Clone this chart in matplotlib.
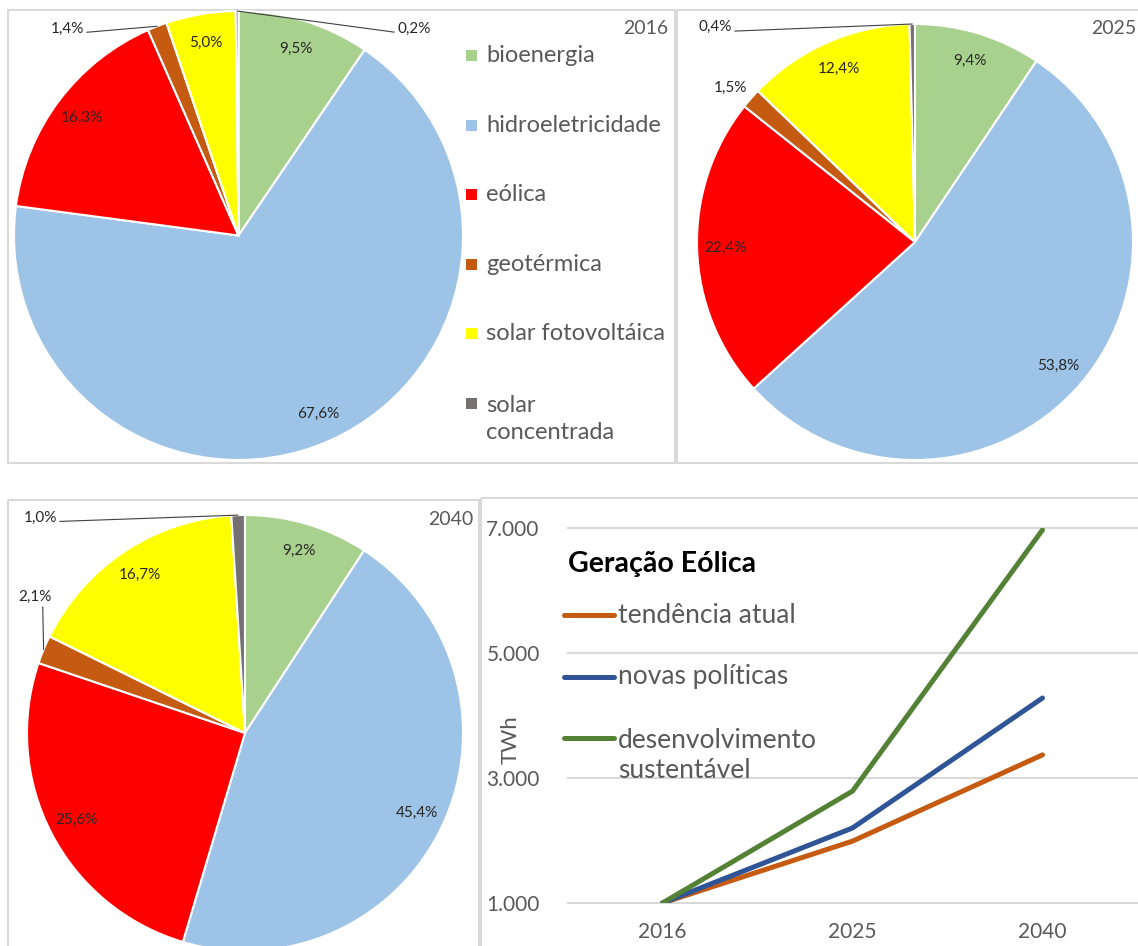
import matplotlib

matplotlib.use("Agg")
import matplotlib.pyplot as plt
import numpy as np
from matplotlib.patches import Rectangle

W, H = 1138, 946

SOURCES = ["bioenergia", "hidroeletricidade", "eólica", "geotérmica", "solar fotovoltáica", "solar concentrada"]
SOURCE_COLORS = ["#A9D18E", "#9DC3E6", "#FF0000", "#C55A11", "#FFFF00", "#767171"]
SHARE_2016 = [9.5, 67.6, 16.3, 1.4, 5.0, 0.2]
SHARE_2025 = [9.4, 53.8, 22.4, 1.5, 12.4, 0.4]
SHARE_2040 = [9.2, 45.4, 25.6, 2.1, 16.7, 1.0]

YEARS = ["2016", "2025", "2040"]
SCENARIOS = ["tendência atual", "novas políticas", "desenvolvimento\nsustentável"]
SCENARIO_COLORS = ["#C55A11", "#2F5597", "#548235"]
WIND_TREND = [1000, 1990, 3370]
WIND_NEW_POLICIES = [1000, 2200, 4280]
WIND_SUSTAINABLE = [1000, 2790, 6970]
Y_TICKS = [1000, 3000, 5000, 7000]

GREY = "#595959"
plt.rcParams["font.family"] = ["Lato", "DejaVu Sans"]

fig = plt.figure(figsize=(W / 100, H / 100), dpi=100)


def px_axes(x0, y0, x1, y1):
    return fig.add_axes([x0 / W, 1 - y1 / H, (x1 - x0) / W, (y1 - y0) / H])


def pct(v):
    return f"{v:.1f}%".replace(".", ",")


bg = px_axes(0, 0, W, H)
bg.set_xlim(0, W); bg.set_ylim(H, 0); bg.axis("off")
for x0, y0, x1, y1 in [(8, 10, 675, 463), (677, 10, 1160, 463), (8, 500, 479, 960), (481, 498, 1160, 960)]:
    bg.add_patch(Rectangle((x0, y0), x1 - x0, y1 - y0, fill=False, ec="#D9D9D9", lw=1.5, clip_on=False))


def draw_pie(cx, cy, r, shares, year, year_xy, outside):
    ax = px_axes(cx - r, cy - r, cx + r, cy + r)
    wedges, _ = ax.pie(shares, colors=SOURCE_COLORS, startangle=90, counterclock=False, radius=1,
                       wedgeprops=dict(edgecolor="white", linewidth=1.5))
    ax.set_xlim(-1, 1); ax.set_ylim(-1, 1); ax.axis("off")
    for w, v, name in zip(wedges, shares, SOURCES):
        ang = np.deg2rad((w.theta1 + w.theta2) / 2)
        if name in outside:
            tx, ty, ha, rel = outside[name]
            arrow = None if rel is None else dict(arrowstyle="-", color="#404040", lw=0.8, shrinkA=0, shrinkB=0, relpos=rel)
            ax.annotate(pct(v), xy=(np.cos(ang), np.sin(ang)), xytext=((tx - cx) / r, (cy - ty) / r),
                        ha=ha, va="center", fontsize=11, color="#262626", arrowprops=arrow, annotation_clip=False)
        else:
            ax.text(0.87 * np.cos(ang), 0.87 * np.sin(ang), pct(v), ha="center", va="center", fontsize=11, color="#262626")
    fig_x, fig_y, ha = year_xy
    fg_texts.append((fig_x, fig_y, year, ha))


fg_texts = []
draw_pie(238.5, 235.5, 224.5, SHARE_2016, "2016", (668, 28, "right"),
         {"geotérmica": (84, 29, "right", (1, 0.25)), "solar concentrada": (397, 29, "left", (0, 0.25))})
draw_pie(915, 242, 218, SHARE_2025, "2025", (1136, 28, "right"),
         {"geotérmica": (730, 88, "center", None), "solar concentrada": (732, 27, "right", (1, 0.2))})
draw_pie(245, 733, 218, SHARE_2040, "2040", (473, 519, "right"),
         {"geotérmica": (35, 597, "center", (0.73, 0)), "solar concentrada": (57, 518, "right", (1, 0.25))})

# line chart
ax = px_axes(567.5, 528, 1137.5, 903)
ax.patch.set_alpha(0)
x = np.arange(len(YEARS))
for vals, color in zip([WIND_TREND, WIND_NEW_POLICIES, WIND_SUSTAINABLE], SCENARIO_COLORS):
    ax.plot(x, vals, color=color, lw=3.6, solid_capstyle="round", zorder=3)
ax.set_xlim(-0.5, 2.5); ax.set_ylim(1000, 7000)
ax.set_xticks(x, YEARS)
ax.set_yticks(Y_TICKS, [f"{v:,}".replace(",", ".") for v in Y_TICKS])
ax.grid(axis="y", color="#D9D9D9", lw=1.5)
for gl in ax.get_ygridlines():
    gl.set_clip_on(False)
for s in ax.spines.values():
    s.set_visible(False)
ax.tick_params(axis="y", length=0, labelsize=15, labelcolor=GREY, pad=20)
ax.tick_params(axis="x", length=0, labelsize=15, labelcolor=GREY, pad=14)

fg = px_axes(0, 0, W, H)
fg.set_xlim(0, W); fg.set_ylim(H, 0); fg.axis("off")
for tx, ty, s, ha in fg_texts:
    fg.text(tx, ty, s, ha=ha, va="center", fontsize=14, color=GREY)

# pie legend
for i, (name, color) in enumerate(zip(SOURCES, SOURCE_COLORS)):
    y = 56 + i * 69.4
    label = name.replace("solar concentrada", "solar\nconcentrada")
    n = label.count("\n")
    fg.add_patch(Rectangle((466, y - 5.5), 11, 11, color=color, lw=0))
    fg.text(486, y + n * 16, label, ha="left", va="center", fontsize=17, color=GREY, linespacing=1.3)

# line legend
fg.text(568, 564, "Geração Eólica", ha="left", va="center", fontsize=20.5, fontweight="bold", color="black")
for i, (name, color) in enumerate(zip(SCENARIOS, SCENARIO_COLORS)):
    y = 615 + i * 61.5
    n = name.count("\n")
    fg.plot([564, 614], [y, y], color=color, lw=3.6, solid_capstyle="round")
    fg.text(618, y + n * 17, name, ha="left", va="center", fontsize=19, color=GREY, linespacing=1.25)
fg.text(511, 740, "TWh", rotation=90, ha="center", va="center", fontsize=16, color=GREY)

fig.savefig("out.png", dpi=100)
